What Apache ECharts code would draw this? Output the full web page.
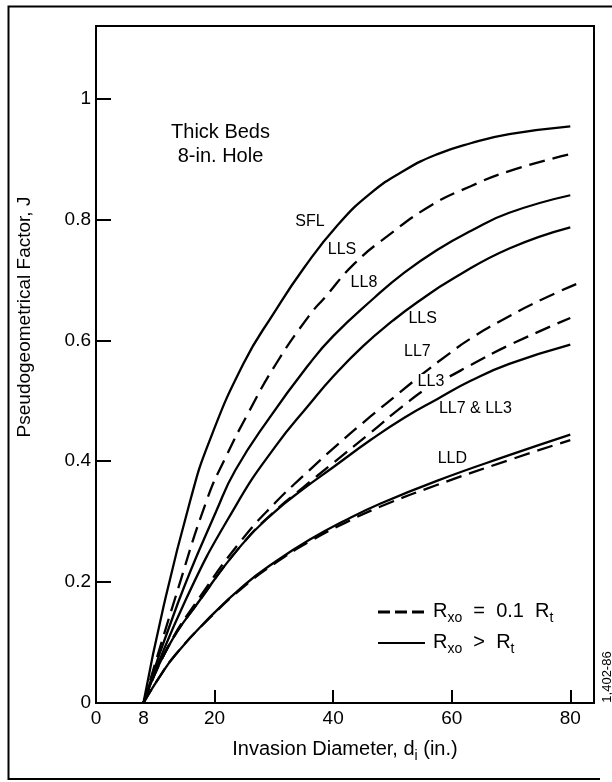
<!DOCTYPE html>
<html>
<head>
<meta charset="utf-8">
<script src="https://cdn.jsdelivr.net/npm/echarts@6/dist/echarts.min.js"></script>
<style>
  html, body { margin: 0; padding: 0; background: #ffffff; }
  #chart { width: 612px; height: 782px; }
</style>
</head>
<body>
<div id="chart"></div>
<script>
// Axis ticks and labels
const X_TICK_LABELS = [0, 8, 20, 40, 60, 80];
const X_TICKS = [20, 40, 60, 80];
const Y_TICK_LABELS = [0, 0.2, 0.4, 0.6, 0.8, 1];
const Y_TICKS = [0.2, 0.4, 0.6, 0.8, 1];

// Pseudogeometrical factor J versus invasion diameter di (in.)
const SFL_SOLID = [[8,0],[11.4,0.16],[15.9,0.335],[19,0.43],[24.9,0.562],[30,0.645],[35.1,0.72],[40.7,0.79],[46.3,0.843],[52,0.881],[57.6,0.908],[63.2,0.926],[69.7,0.941],[80,0.954]];
const LLS_DASHED = [[8,0],[13.4,0.175],[18.7,0.336],[21.8,0.405],[25.8,0.482],[30.3,0.56],[35.9,0.64],[38.7,0.672],[43.5,0.726],[49.1,0.772],[56.5,0.823],[63.2,0.855],[69.7,0.88],[80,0.908]];
const LL8_SOLID = [[8,0],[13.8,0.165],[20.4,0.32],[23.5,0.385],[29.2,0.471],[35.9,0.56],[40,0.607],[46.9,0.67],[52,0.712],[57.6,0.75],[63.2,0.781],[69.7,0.811],[80,0.84]];
const LLS_SOLID = [[8,0],[15.1,0.17],[23.5,0.325],[30.3,0.425],[35.9,0.493],[40,0.54],[45,0.59],[50,0.632],[54.2,0.663],[60.4,0.703],[69.7,0.752],[80,0.787]];
const LL7_DASHED = [[8,0],[12,0.09],[17.5,0.175],[24.6,0.27],[30.3,0.332],[35.1,0.377],[40.7,0.427],[46.3,0.474],[51.4,0.515],[55.3,0.546],[59.3,0.576],[63.2,0.603],[69.7,0.64],[75.3,0.668],[81,0.693]];
const LL3_DASHED = [[8,0],[12,0.09],[17.5,0.17],[24.6,0.262],[30,0.316],[35.1,0.358],[40,0.397],[46.3,0.447],[51.6,0.49],[56.5,0.525],[59.6,0.54],[63.2,0.559],[69.7,0.592],[80,0.637]];
const LL73_SOLID = [[8,0],[12,0.09],[17.5,0.17],[24.6,0.262],[30,0.315],[35.1,0.355],[40,0.39],[46.3,0.435],[52,0.472],[57.6,0.503],[63.2,0.533],[69.7,0.561],[80,0.593]];
const LLD_SOLID = [[8,0],[10.5,0.04],[13.4,0.08],[19,0.14],[25,0.195],[30,0.232],[36,0.27],[42,0.302],[48,0.33],[57.6,0.368],[69.7,0.41],[80,0.444]];
const LLD_DASHED = [[8,0],[10.5,0.04],[13.4,0.08],[19,0.139],[25,0.193],[30,0.23],[36,0.267],[42,0.298],[48,0.325],[57.6,0.361],[69.7,0.402],[80,0.435]];

// Curve names placed beside their curves, [text, di, J, masks the line beneath]
const CURVE_LABELS = [
  ['SFL', 36.1, 0.797, false],
  ['LLS', 41.5, 0.750, false],
  ['LL8', 45.2, 0.695, false],
  ['LLS', 55.1, 0.636, false],
  ['LL7', 54.2, 0.582, false],
  ['LL3', 56.5, 0.531, true],
  ['LL7 & LL3', 64.0, 0.487, false],
  ['LLD', 60.1, 0.405, false]
];
// Condition note, [text, di, J]
const NOTE_LINES = [
  ['Thick Beds', 21.0, 0.944, false],
  ['8-in. Hole', 21.0, 0.904, false]
];

const FONT = '"Liberation Sans", Arial, Helvetica, sans-serif';
const INK = '#000000';

const CURVES = [
  { data: SFL_SOLID, dashed: false },
  { data: LLS_DASHED, dashed: true },
  { data: LL8_SOLID, dashed: false },
  { data: LLS_SOLID, dashed: false },
  { data: LL7_DASHED, dashed: true },
  { data: LL3_DASHED, dashed: true },
  { data: LL73_SOLID, dashed: false },
  { data: LLD_SOLID, dashed: false },
  { data: LLD_DASHED, dashed: true }
];

const chart = echarts.init(document.getElementById('chart'), null, { renderer: 'canvas' });

const series = CURVES.map(c => ({
  type: 'line',
  data: c.data,
  smooth: 0.5,
  showSymbol: false,
  silent: true,
  z: 3,
  lineStyle: { color: INK, width: 2.3, type: c.dashed ? [16, 8] : 'solid', cap: 'butt' }
}));

function textLayer(rows, size) {
  return {
    type: 'scatter',
    silent: true,
    z: 6,
    symbolSize: 1,
    itemStyle: { color: '#ffffff', opacity: 1 },
    data: rows.map(r => {
      const item = { name: r[0], value: [r[1], r[2]] };
      if (r[3]) item.label = { backgroundColor: '#ffffff', padding: [0, 2] };
      return item;
    }),
    label: {
      show: true, position: 'inside', formatter: p => p.name,
      fontFamily: FONT, fontSize: size, color: INK, opacity: 1,
      textBorderWidth: 0, textBorderColor: 'transparent'
    }
  };
}
series.push(textLayer(CURVE_LABELS, 16));
series.push(textLayer(NOTE_LINES, 20));

const subRich = {
  a: { fontFamily: FONT, fontSize: 20, color: INK, lineHeight: 24, verticalAlign: 'top' },
  s: { fontFamily: FONT, fontSize: 14, color: INK, lineHeight: 24, verticalAlign: 'bottom' }
};

chart.setOption({
  animation: false,
  backgroundColor: '#ffffff',
  grid: { left: 96, right: 18, top: 26, bottom: 79, show: true, borderColor: INK, borderWidth: 2, backgroundColor: 'transparent' },
  xAxis: {
    type: 'value', min: 0, max: 84,
    axisLine: { show: true, onZero: false, lineStyle: { color: INK, width: 2 } },
    axisTick: { show: true, inside: true, length: 13, customValues: X_TICKS, lineStyle: { color: INK, width: 2 } },
    axisLabel: { customValues: X_TICK_LABELS, margin: 6, fontFamily: FONT, fontSize: 19, color: INK },
    splitLine: { show: false },
    name: '{a|Invasion Diameter, d}{s|i}{a| (in.)}',
    nameLocation: 'middle', nameGap: 36,
    nameTextStyle: { rich: subRich }
  },
  yAxis: {
    type: 'value', min: 0, max: 1.12,
    axisLine: { show: true, lineStyle: { color: INK, width: 2 } },
    axisTick: { show: true, inside: true, length: 15, customValues: Y_TICKS, lineStyle: { color: INK, width: 2 } },
    axisLabel: { customValues: Y_TICK_LABELS, margin: 5, fontFamily: FONT, fontSize: 19, color: INK, formatter: v => String(v) },
    splitLine: { show: false }
  },
  graphic: [
    // outer frame
    { type: 'polyline', silent: true, shape: { points: [[612, 6.5], [8.5, 6.5], [8.5, 779], [600, 779]] },
      style: { stroke: INK, lineWidth: 2, fill: null } },
    // y axis title
    { type: 'text', silent: true, x: 25, y: 317, rotation: Math.PI / 2,
      style: { text: 'Pseudogeometrical Factor, J', font: '19px ' + FONT, fill: INK, align: 'center', verticalAlign: 'middle' } },
    // legend
    { type: 'line', silent: true, shape: { x1: 378, y1: 612, x2: 425, y2: 612 },
      style: { stroke: INK, lineWidth: 3, lineDash: [12, 5] } },
    { type: 'text', silent: true, x: 433, y: 613,
      style: { text: '{a|R}{s|xo}{a|  =  0.1  R}{s|t}', rich: subRich, verticalAlign: 'middle' } },
    { type: 'line', silent: true, shape: { x1: 378, y1: 643, x2: 425, y2: 643 },
      style: { stroke: INK, lineWidth: 2.2 } },
    { type: 'text', silent: true, x: 433, y: 644,
      style: { text: '{a|R}{s|xo}{a|  >  R}{s|t}', rich: subRich, verticalAlign: 'middle' } },
    // figure number
    { type: 'text', silent: true, x: 607, y: 677, rotation: Math.PI / 2,
      style: { text: '1,402-86', font: '13px ' + FONT, fill: INK, align: 'center', verticalAlign: 'middle' } }
  ],
  series: series
});
</script>
</body>
</html>
